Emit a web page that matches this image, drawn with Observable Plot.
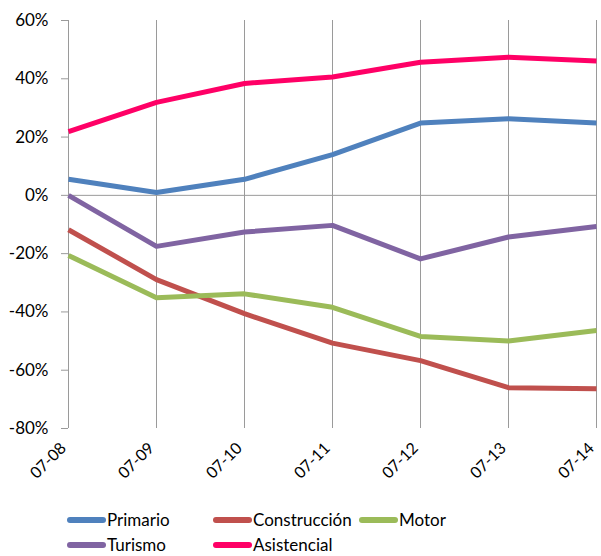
<!DOCTYPE html>
<html><head><meta charset="utf-8">
<script src="https://cdn.jsdelivr.net/npm/d3@7"></script>
<script src="https://cdn.jsdelivr.net/npm/@observablehq/plot@0.6"></script>
<style>
body{margin:0;background:#fff;font-family:Lato,"Open Sans",sans-serif;}
#chart{width:601px;height:500px;}
#legend{display:grid;grid-template-columns:146px 146px 146px;grid-auto-rows:25px;margin-left:67px;padding-top:7px;font-size:17px;color:#000;}
.item{display:flex;align-items:center;white-space:nowrap;}
.sw{display:inline-block;width:39px;height:6px;border-radius:3px;margin-right:1px;}
</style></head><body>
<div id="chart"></div><div id="legend"></div>
<script>
const periods = ["07-08","07-09","07-10","07-11","07-12","07-13","07-14"];
const seriesNames = ["Primario","Construcción","Motor","Turismo","Asistencial"];
const primario = [5.5, 1.0, 5.5, 14.0, 24.8, 26.3, 24.8];
const construccion = [-11.8, -28.9, -40.6, -50.7, -56.7, -66.0, -66.4];
const motor = [-20.6, -35.1, -33.8, -38.4, -48.4, -50.0, -46.4];
const turismo = [0.0, -17.5, -12.6, -10.3, -21.8, -14.3, -10.7];
const asistencial = [21.9, 31.9, 38.4, 40.6, 45.7, 47.4, 46.1];
const colors = ["#4F81BD","#C0504D","#9BBB59","#8064A2","#FF0066"];
const yTicks = [-80,-60,-40,-20,0,20,40,60];

const seriesValues = [primario, construccion, motor, turismo, asistencial];
const rows = seriesNames.flatMap((s,i)=>periods.map((p,j)=>({series:s, period:p, value:seriesValues[i][j]})));

const chart = Plot.plot({
  width:601, height:500,
  marginLeft:68, marginRight:5, marginTop:20, marginBottom:72,
  x:{type:"point", domain:periods, padding:0, label:null},
  y:{domain:[-80,60], label:null},
  color:{domain:seriesNames, range:colors},
  style:{fontFamily:"Lato, 'Open Sans', sans-serif", fontSize:"16px", color:"#000", background:"#fff"},
  marks:[
    Plot.ruleX(periods, {x:d=>d, stroke:"#9a9a9a", strokeWidth:1}),
    Plot.ruleY([0], {stroke:"#9a9a9a", strokeWidth:1}),
    Plot.axisY({ticks:yTicks, tickFormat:d=>`${d}%`, tickSize:7, tickPadding:13, stroke:"#9a9a9a", fill:"#000", fontSize:17, label:null}),
    Plot.axisX({tickRotate:-45, tickSize:0, tickPadding:17, dx:-5, fill:"#000", fontSize:16, label:null}),
    Plot.line(rows, {x:"period", y:"value", z:"series", stroke:"series", strokeWidth:5, strokeLinejoin:"round", strokeLinecap:"butt"})
  ]
});
document.getElementById("chart").appendChild(chart);

const legend = document.getElementById("legend");
seriesNames.forEach((s,i)=>{
  const it = document.createElement("div"); it.className="item";
  const sw = document.createElement("span"); sw.className="sw"; sw.style.background=colors[i];
  it.appendChild(sw); it.appendChild(document.createTextNode(s));
  legend.appendChild(it);
});
</script></body></html>
